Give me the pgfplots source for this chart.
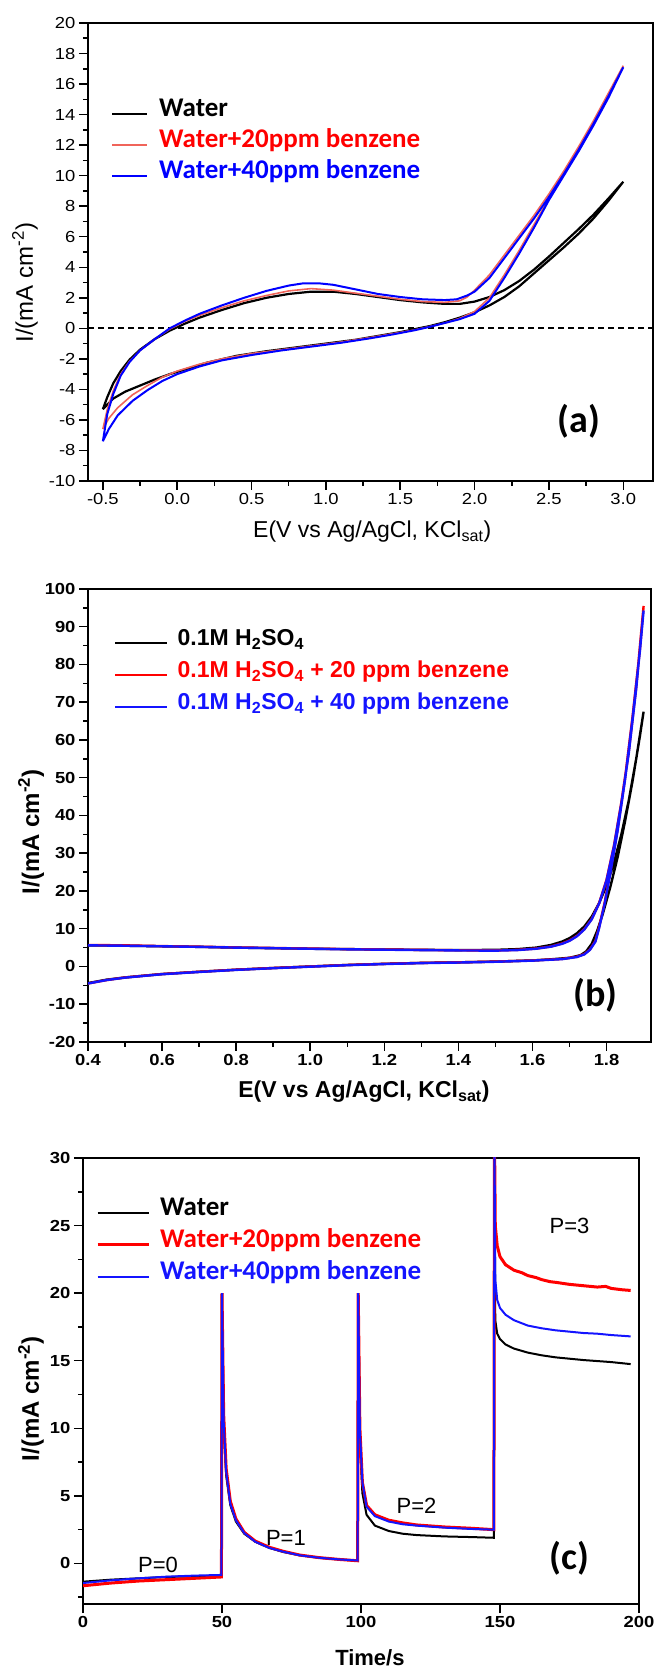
\documentclass[border=0pt]{standalone}
\usepackage{pgfplots}
\pgfplotsset{compat=1.18}
\usepackage{fontspec}
\setmainfont{Liberation Sans}
\newfontfamily\calib{Carlito}
\newfontfamily\tickf[FakeStretch=1.15]{Liberation Sans}
\definecolor{lred}{RGB}{240,100,90}
\definecolor{mred}{RGB}{255,0,0}
\definecolor{mblue}{RGB}{20,20,255}

\pgfplotsset{
  myaxis/.style={
    scale only axis,
    anchor=south west,
    axis line style={line width=1.5pt},
    tick align=outside,
    major tick length=9pt,
    minor tick length=5pt,
    every tick/.style={black, line width=1.5pt},
    tick pos=left,
    /pgf/number format/assume math mode=true,
    legend cell align=left,
  }
}

\begin{document}
\begin{tikzpicture}
\path[use as bounding box] (0,0) rectangle (656pt,1673pt);

% ---------------- panel (a) ----------------
\begin{axis}[myaxis,
  at={(88pt,1192pt)}, width=565pt, height=458pt,
  xmin=-0.6, xmax=3.2, ymin=-10, ymax=20,
  xtick={-0.5,0,0.5,1,1.5,2,2.5,3}, minor x tick num=1,
  ytick={-10,-8,-6,-4,-2,0,2,4,6,8,10,12,14,16,18,20}, minor y tick num=1,
  ticklabel style={font=\tickf\fontsize{16}{16}\selectfont},
  xticklabel style={/pgf/number format/.cd, fixed, fixed zerofill, precision=1},
  xlabel={E(V vs Ag/AgCl, KCl\textsubscript{sat})},
  ylabel={I/(mA cm\textsuperscript{-2})},
  xlabel style={at={(axis description cs:0.503,-0.111)}, anchor=center, font=\fontsize{23}{23}\selectfont},
  ylabel style={at={(axis description cs:-0.1115,0.433)}, anchor=center, font=\fontsize{24}{24}\selectfont},
  legend style={at={(axis description cs:0.035,0.817)}, anchor=north west, draw=none, fill=none,
    font=\calib\bfseries\fontsize{27}{27}\selectfont, row sep=21pt, column sep=11pt,
    nodes={inner sep=0pt, text height=0.75em, text depth=0.25em}},
  legend image code/.code={\draw[#1] (0pt,0pt) -- (35pt,0pt);},
]
\addplot[black, dashed, line width=2pt, dash pattern=on 6pt off 4pt, forget plot] coordinates {(-0.6,0) (3.2,0)};
\addplot[black, line width=2.2pt] coordinates {
(-0.5,-5.3) (-0.47,-4.5) (-0.43,-3.6) (-0.38,-2.8) (-0.32,-2.05) (-0.25,-1.4) (-0.15,-0.7) (-0.05,-0.15)
(0.05,0.3) (0.15,0.7) (0.3,1.2) (0.45,1.65) (0.6,2.0) (0.75,2.25) (0.9,2.4) (1.05,2.4) (1.2,2.25)
(1.35,2.05) (1.5,1.85) (1.65,1.7) (1.8,1.6) (1.9,1.6) (2.0,1.75) (2.1,2.05) (2.2,2.5) (2.3,3.1)
(2.4,3.85) (2.5,4.7) (2.6,5.6) (2.7,6.5) (2.8,7.45) (2.9,8.5) (3.0,9.6)
(2.9,8.35) (2.8,7.2) (2.7,6.2) (2.6,5.3) (2.5,4.45) (2.4,3.6) (2.3,2.75) (2.2,2.05) (2.1,1.5) (2.0,1.05)
(1.9,0.7) (1.8,0.4) (1.7,0.15) (1.6,-0.05) (1.5,-0.25) (1.35,-0.5) (1.2,-0.75) (1.0,-1.0) (0.8,-1.25)
(0.6,-1.5) (0.4,-1.8) (0.2,-2.25) (0.05,-2.7) (-0.05,-3.0) (-0.15,-3.35) (-0.25,-3.75) (-0.35,-4.15)
(-0.43,-4.6) (-0.5,-5.3)};
\addlegendentry{Water}
\addplot[lred, line width=1.6pt] coordinates {
(-0.5,-6.6) (-0.47,-5.3) (-0.43,-4.1) (-0.38,-3.0) (-0.32,-2.15) (-0.25,-1.45) (-0.15,-0.7) (-0.05,-0.05)
(0.05,0.45) (0.15,0.85) (0.3,1.35) (0.45,1.8) (0.6,2.15) (0.75,2.45) (0.9,2.6) (1.05,2.5) (1.2,2.3)
(1.35,2.1) (1.5,1.9) (1.65,1.75) (1.8,1.7) (1.9,1.8) (1.95,2.05) (2.0,2.5) (2.1,3.5) (2.2,4.8)
(2.3,6.1) (2.4,7.4) (2.5,8.8) (2.6,10.3) (2.7,11.9) (2.8,13.6) (2.9,15.4) (3.0,17.2)
(2.9,15.3) (2.8,13.5) (2.7,11.8) (2.6,10.1) (2.5,8.5) (2.4,6.8) (2.3,5.1) (2.2,3.5) (2.1,2.0) (2.0,1.1)
(1.9,0.65) (1.8,0.35) (1.7,0.12) (1.6,-0.1) (1.45,-0.35) (1.3,-0.6) (1.1,-0.9) (0.9,-1.15) (0.7,-1.4)
(0.5,-1.65) (0.3,-2.0) (0.15,-2.35) (0.0,-2.8) (-0.1,-3.2) (-0.2,-3.75) (-0.3,-4.35) (-0.4,-5.2)
(-0.46,-5.9) (-0.5,-6.6)};
\addlegendentry{\textcolor{mred}{Water+20ppm benzene}}
\addplot[blue, line width=2pt] coordinates {
(-0.5,-7.4) (-0.47,-5.6) (-0.43,-4.3) (-0.38,-3.1) (-0.32,-2.2) (-0.25,-1.45) (-0.15,-0.7) (-0.05,0.0)
(0.05,0.5) (0.15,0.95) (0.3,1.5) (0.45,2.0) (0.6,2.45) (0.75,2.8) (0.85,2.95) (0.95,2.95) (1.05,2.85)
(1.2,2.55) (1.35,2.25) (1.5,2.05) (1.65,1.9) (1.8,1.85) (1.88,1.9) (1.95,2.15) (2.0,2.4) (2.1,3.3)
(2.2,4.6) (2.3,5.9) (2.4,7.2) (2.5,8.6) (2.6,10.1) (2.7,11.7) (2.8,13.4) (2.9,15.2) (3.0,17.1)
(2.9,15.1) (2.8,13.3) (2.7,11.6) (2.6,10.0) (2.5,8.4) (2.4,6.6) (2.3,4.9) (2.2,3.3) (2.1,1.8) (2.0,0.95)
(1.9,0.6) (1.8,0.35) (1.7,0.1) (1.6,-0.12) (1.45,-0.4) (1.3,-0.65) (1.1,-0.95) (0.9,-1.2) (0.7,-1.45)
(0.5,-1.75) (0.3,-2.1) (0.15,-2.5) (0.0,-3.0) (-0.1,-3.45) (-0.2,-4.05) (-0.3,-4.75) (-0.4,-5.7)
(-0.46,-6.6) (-0.5,-7.4)};
\addlegendentry{\textcolor{blue}{Water+40ppm benzene}}
\node[font=\calib\bfseries\fontsize{38}{38}\selectfont] at (axis cs:2.7,-6.1) {(a)};
\end{axis}

% ---------------- panel (b) ----------------
\begin{axis}[myaxis,
  at={(88pt,631pt)}, width=563pt, height=453pt,
  xmin=0.4, xmax=1.92, ymin=-20, ymax=100,
  xtick={0.4,0.6,0.8,1.0,1.2,1.4,1.6,1.8}, minor x tick num=1,
  ytick={-20,-10,0,10,20,30,40,50,60,70,80,90,100}, minor y tick num=1,
  ticklabel style={font=\tickf\bfseries\fontsize{16}{16}\selectfont},
  xticklabel style={/pgf/number format/.cd, fixed, fixed zerofill, precision=1},
  xlabel={E(V vs Ag/AgCl, KCl\textsubscript{sat})},
  ylabel={I/(mA cm\textsuperscript{-2})},
  xlabel style={at={(axis description cs:0.49,-0.110)}, anchor=center, font=\bfseries\fontsize{23}{23}\selectfont},
  ylabel style={at={(axis description cs:-0.101,0.464)}, anchor=center, font=\bfseries\fontsize{24}{24}\selectfont},
  legend style={at={(axis description cs:0.041,0.897)}, anchor=north west, draw=none, fill=none,
    font=\bfseries\fontsize{23}{23}\selectfont, row sep=22pt, column sep=9pt,
    nodes={inner sep=0pt, text height=0.75em, text depth=0.25em}},
  legend image code/.code={\draw[#1] (0pt,0pt) -- (52pt,0pt);},
]
\addplot[black, line width=2.4pt] coordinates {
(0.4,5.6) (0.5,5.5) (0.6,5.35) (0.7,5.2) (0.8,5.0) (0.9,4.85) (1.0,4.7) (1.1,4.6) (1.2,4.5) (1.3,4.4)
(1.4,4.35) (1.5,4.4) (1.56,4.6) (1.61,5.0) (1.65,5.7) (1.68,6.6) (1.70,7.5) (1.72,8.8) (1.74,10.6)
(1.76,13.2) (1.78,16.8) (1.80,21.5) (1.82,27.5) (1.84,35) (1.86,44) (1.88,55) (1.90,67.5)
(1.89,61) (1.87,49) (1.85,38.5) (1.83,29) (1.81,21) (1.79,14) (1.775,9.5) (1.76,6) (1.745,4) (1.73,3.0)
(1.70,2.3) (1.65,1.9) (1.6,1.6) (1.5,1.3) (1.4,1.1) (1.3,0.95) (1.2,0.7) (1.1,0.4) (1.0,0.0) (0.9,-0.4)
(0.8,-0.85) (0.7,-1.4) (0.6,-2.0) (0.5,-2.9) (0.45,-3.5) (0.4,-4.4)};
\addlegendentry{0.1M H\textsubscript{2}SO\textsubscript{4}}
\addplot[mred, line width=2.4pt] coordinates {
(0.4,5.7) (0.5,5.6) (0.6,5.4) (0.7,5.25) (0.8,5.05) (0.9,4.9) (1.0,4.75) (1.1,4.6) (1.2,4.5) (1.3,4.4)
(1.4,4.3) (1.5,4.25) (1.56,4.4) (1.61,4.75) (1.65,5.3) (1.68,6.1) (1.70,6.9) (1.72,8.1) (1.74,9.9)
(1.76,12.6) (1.78,16.8) (1.80,23) (1.82,32) (1.84,43.5) (1.86,57) (1.88,74) (1.90,95.5)
(1.89,84) (1.87,66) (1.85,50) (1.83,36.5) (1.81,25) (1.795,17) (1.78,10.5) (1.77,6.8) (1.755,4.5)
(1.74,3.3) (1.72,2.6) (1.68,2.0) (1.6,1.6) (1.5,1.3) (1.4,1.1) (1.3,0.95) (1.2,0.7) (1.1,0.4) (1.0,0.0)
(0.9,-0.4) (0.8,-0.85) (0.7,-1.4) (0.6,-2.0) (0.5,-2.9) (0.45,-3.6) (0.4,-4.5)};
\addlegendentry{\textcolor{mred}{0.1M H\textsubscript{2}SO\textsubscript{4} + 20 ppm benzene}}
\addplot[mblue, line width=2.4pt] coordinates {
(0.4,5.6) (0.5,5.5) (0.6,5.35) (0.7,5.2) (0.8,5.0) (0.9,4.85) (1.0,4.7) (1.1,4.55) (1.2,4.45) (1.3,4.35)
(1.4,4.25) (1.5,4.2) (1.56,4.35) (1.61,4.7) (1.65,5.25) (1.68,6.0) (1.70,6.8) (1.72,8.0) (1.74,9.8)
(1.76,12.5) (1.78,16.7) (1.80,22.8) (1.82,31.8) (1.84,43.2) (1.86,56.5) (1.88,73.5) (1.90,94.3)
(1.89,83.5) (1.87,65.5) (1.85,49.5) (1.83,36) (1.81,24.6) (1.795,16.7) (1.78,10.2) (1.77,6.6) (1.755,4.4)
(1.74,3.2) (1.72,2.5) (1.68,1.95) (1.6,1.55) (1.5,1.25) (1.4,1.05) (1.3,0.9) (1.2,0.65) (1.1,0.35)
(1.0,-0.05) (0.9,-0.45) (0.8,-0.9) (0.7,-1.45) (0.6,-2.05) (0.5,-2.95) (0.45,-3.6) (0.4,-4.5)};
\addlegendentry{\textcolor{mblue}{0.1M H\textsubscript{2}SO\textsubscript{4} + 40 ppm benzene}}
\node[font=\calib\bfseries\fontsize{38}{38}\selectfont] at (axis cs:1.77,-7.7) {(b)};
\end{axis}

% ---------------- panel (c) ----------------
\begin{axis}[myaxis,
  at={(83pt,69pt)}, width=556pt, height=446pt,
  xmin=0, xmax=200, ymin=-3, ymax=30,
  xtick={0,50,100,150,200},
  ytick={0,5,10,15,20,25,30}, minor ytick={-2.5,2.5,7.5,12.5,17.5,22.5,27.5},
  ticklabel style={font=\tickf\bfseries\fontsize{16}{16}\selectfont},
  xlabel={Time/s},
  ylabel={I/(mA cm\textsuperscript{-2})},
  xlabel style={at={(axis description cs:0.516,-0.121)}, anchor=center, font=\bfseries\fontsize{22}{22}\selectfont},
  ylabel style={at={(axis description cs:-0.0935,0.46)}, anchor=center, font=\bfseries\fontsize{24}{24}\selectfont},
  legend style={at={(axis description cs:0.018,0.893)}, anchor=north west, draw=none, fill=none,
    font=\calib\bfseries\fontsize{27}{27}\selectfont, row sep=22pt, column sep=10pt,
    nodes={inner sep=0pt, text height=0.75em, text depth=0.25em}},
  legend image code/.code={\draw[#1] (0pt,0pt) -- (51pt,0pt);},
]
\addplot[black, line width=2pt] coordinates {
(0,-1.35) (10,-1.2) (20,-1.1) (30,-1.0) (40,-0.95) (49.8,-0.9) (50,20) (50.6,10) (51.5,6.5) (53,4.3)
(55,3.1) (58,2.2) (62,1.6) (67,1.15) (72,0.85) (78,0.6) (85,0.42) (92,0.3) (98.8,0.2) (99,20)
(99.6,9) (100.5,5.2) (102,3.6) (105,2.8) (110,2.4) (115,2.2) (120,2.1) (130,2.0) (140,1.95) (147.8,1.9)
(148,32) (148.3,18) (149,17.0) (150,16.6) (152,16.2) (155,15.9) (160,15.6) (165,15.4) (170,15.25)
(180,15.05) (190,14.9) (197,14.75)};
\addlegendentry{Water}
\addplot[mred, line width=3pt] coordinates {
(0,-1.65) (10,-1.45) (20,-1.3) (30,-1.2) (40,-1.1) (49.8,-1.0) (50,20) (50.6,11) (51.5,7) (53,4.6)
(55,3.3) (58,2.3) (62,1.65) (67,1.2) (72,0.9) (78,0.62) (85,0.43) (92,0.3) (98.8,0.2) (99,20)
(99.6,10) (100.5,6) (102,4.3) (105,3.6) (110,3.2) (115,3.0) (120,2.85) (130,2.7) (140,2.6) (147.8,2.5)
(148,32) (148.3,25) (149,23.5) (150,22.7) (152,22.1) (155,21.7) (158,21.5) (160,21.3) (163,21.15)
(165,21.0) (168,20.85) (170,20.8) (175,20.65) (180,20.55) (185,20.45) (188,20.5) (190,20.35)
(194,20.25) (197,20.2)};
\addlegendentry{\textcolor{mred}{Water+20ppm benzene}}
\addplot[mblue, line width=2pt] coordinates {
(0,-1.45) (10,-1.25) (20,-1.1) (30,-0.98) (40,-0.9) (49.8,-0.85) (50,20) (50.6,10.5) (51.5,6.8) (53,4.4)
(55,3.2) (58,2.25) (62,1.6) (67,1.15) (72,0.87) (78,0.6) (85,0.42) (92,0.3) (98.8,0.22) (99,20)
(99.6,9.8) (100.5,6) (102,4.2) (105,3.5) (110,3.1) (115,2.9) (120,2.8) (130,2.65) (140,2.55) (147.8,2.5)
(148,32) (148.3,21) (149,19.5) (150,18.9) (152,18.4) (155,18.0) (160,17.6) (165,17.4) (170,17.25)
(180,17.05) (185,17.0) (190,16.9) (197,16.8)};
\addlegendentry{\textcolor{mblue}{Water+40ppm benzene}}
\node[font=\fontsize{22}{22}\selectfont] at (axis cs:27,-0.1) {P=0};
\node[font=\fontsize{22}{22}\selectfont] at (axis cs:73,1.9) {P=1};
\node[font=\fontsize{22}{22}\selectfont] at (axis cs:120,4.3) {P=2};
\node[font=\fontsize{22}{22}\selectfont] at (axis cs:175,25) {P=3};
\node[font=\calib\bfseries\fontsize{38}{38}\selectfont] at (axis cs:175,0.4) {(c)};
\end{axis}
\end{tikzpicture}
\end{document}
